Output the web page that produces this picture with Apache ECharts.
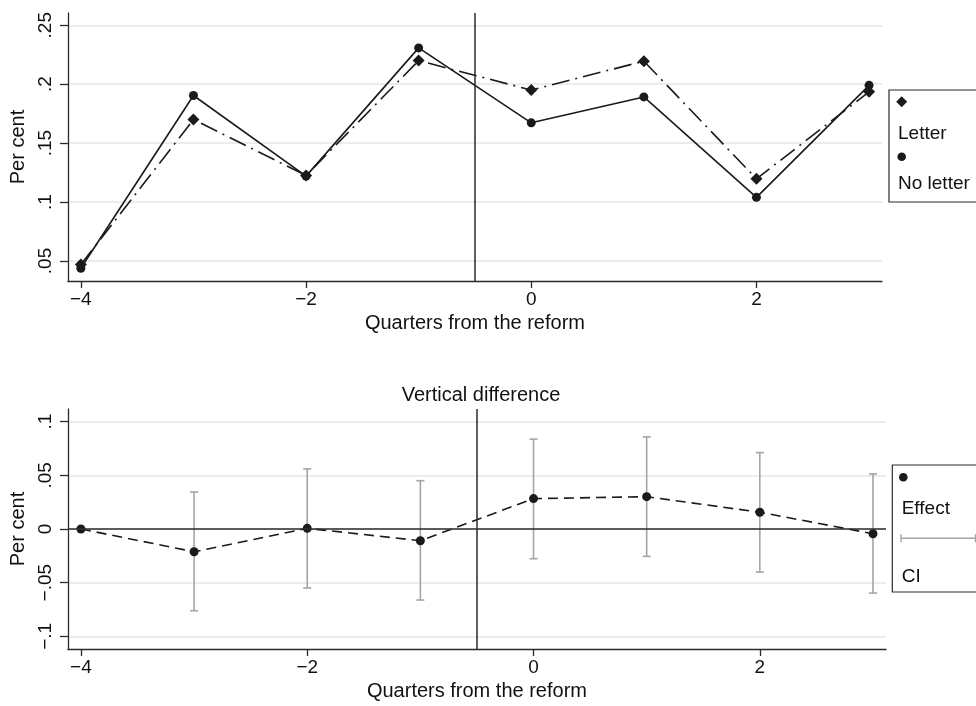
<!DOCTYPE html>
<html><head><meta charset="utf-8">
<script src="https://cdn.jsdelivr.net/npm/echarts@6/dist/echarts.min.js"></script>
<style>html,body{margin:0;padding:0;background:#fff}#c{width:976px;height:706px}</style>
</head><body><div id="c"></div>
<script>
// ---- data ----
const quarters = [-4, -3, -2, -1, 0, 1, 2, 3];
const letter   = [0.047, 0.170, 0.1225, 0.220, 0.195, 0.2195, 0.1197, 0.1935];
const noLetter = [0.0438, 0.1904, 0.122, 0.2308, 0.1672, 0.1892, 0.104, 0.199];
const effect   = [0, -0.0212, 0.0006, -0.0109, 0.0283, 0.0301, 0.0156, -0.0044];
const ciLow    = [null, -0.0762, -0.055, -0.0662, -0.0277, -0.0255, -0.0401, -0.0597];
const ciHigh   = [null, 0.0345, 0.056, 0.045, 0.0837, 0.0858, 0.0712, 0.0513];
const xTicks = [-4, -2, 0, 2];
const yTicksTop = [0.05, 0.1, 0.15, 0.2, 0.25];
const yTicksBottom = [-0.1, -0.05, 0, 0.05, 0.1];
const reformQuarter = -0.5;
const seriesNames = ['Letter', 'No letter', 'Effect', 'CI'];
const xTitle = 'Quarters from the reform';
const yTitle = 'Per cent';
const bottomTitle = 'Vertical difference';

// ---- styling ----
const FONT = '"Liberation Sans", Arial, Helvetica, sans-serif';
const INK = '#1a1a1a';
const AX = '#2b2b2b';
const GRIDC = '#e6e6e6';
const CIC = '#a5a5a5';

function fmtY(v) {
  if (Math.abs(v) < 1e-9) return '0';
  let s = String(Math.round(v * 1000) / 1000).replace('0.', '.');
  return s.replace('-', '\u2212');
}
function fmtX(v) { return String(v).replace('-', '\u2212'); }

function xAxis(gi) {
  return {
    type: 'value', gridIndex: gi, min: -4.115, max: 3.115,
    axisLine: { show: true, onZero: false, lineStyle: { color: AX, width: 1.3 } },
    axisTick: { show: true, length: 7, customValues: xTicks, lineStyle: { color: AX, width: 1.3 } },
    axisLabel: { customValues: xTicks, formatter: fmtX, fontFamily: FONT, fontSize: 19, color: '#111', margin: 9 },
    splitLine: { show: false },
    name: xTitle, nameLocation: 'middle', nameGap: 32,
    nameTextStyle: { fontFamily: FONT, fontSize: 20, color: '#111' }
  };
}
function yAxis(gi, min, max, ticks) {
  return {
    type: 'value', gridIndex: gi, min: min, max: max,
    axisLine: { show: true, onZero: false, lineStyle: { color: AX, width: 1.3 } },
    axisTick: { show: true, length: 8, customValues: ticks, lineStyle: { color: AX, width: 1.3 } },
    axisLabel: { customValues: ticks, formatter: fmtY, rotate: 90, align: 'center', verticalAlign: 'bottom',
                 fontFamily: FONT, fontSize: 19, color: '#111', margin: 13 },
    splitLine: { show: true, lineStyle: { color: GRIDC, width: 1.5 } },
    name: yTitle, nameLocation: 'middle', nameGap: 34, nameRotate: 90,
    nameTextStyle: { fontFamily: FONT, fontSize: 20, color: '#111' }
  };
}

const vline = { xAxis: reformQuarter };
const markLineBase = {
  silent: true, symbol: ['none', 'none'], label: { show: false },
  lineStyle: { color: AX, width: 1.5, type: 'solid' }, animation: false
};

const option = {
  animation: false,
  backgroundColor: '#fff',
  title: {
    text: bottomTitle, left: 476, top: 380, textAlign: 'center',
    textStyle: { fontFamily: FONT, fontSize: 20, fontWeight: 'normal', color: '#111' }
  },
  grid: [
    { left: 67, top: 13, right: 94, bottom: 425 },
    { left: 67, top: 409, right: 90, bottom: 57 }
  ],
  xAxis: [xAxis(0), xAxis(1)],
  yAxis: [yAxis(0, 0.033, 0.2604, yTicksTop), yAxis(1, -0.1118, 0.1118, yTicksBottom)],
  series: [
    {
      name: seriesNames[1], type: 'line', xAxisIndex: 0, yAxisIndex: 0,
      data: quarters.map((q, i) => [q, noLetter[i]]),
      symbol: 'circle', symbolSize: 9, z: 3,
      lineStyle: { color: INK, width: 1.6, type: 'solid' },
      itemStyle: { color: INK },
      markLine: Object.assign({}, markLineBase, { data: [vline] })
    },
    {
      name: seriesNames[0], type: 'line', xAxisIndex: 0, yAxisIndex: 0,
      data: quarters.map((q, i) => [q, letter[i]]),
      symbol: 'diamond', symbolSize: 12, z: 4,
      lineStyle: { color: INK, width: 1.6, type: [18, 6, 2, 6] },
      itemStyle: { color: INK }
    },
    {
      name: seriesNames[3], type: 'custom', xAxisIndex: 1, yAxisIndex: 1, z: 2,
      data: quarters.map((q, i) => [q, ciLow[i], ciHigh[i]]),
      encode: { x: 0, y: [1, 2] },
      renderItem: function (params, api) {
        const lo = api.value(1), hi = api.value(2);
        if (lo == null || hi == null || isNaN(lo) || isNaN(hi)) return null;
        const p1 = api.coord([api.value(0), lo]);
        const p2 = api.coord([api.value(0), hi]);
        const w = 4;
        const st = { stroke: CIC, lineWidth: 1.6 };
        return {
          type: 'group', children: [
            { type: 'line', shape: { x1: p1[0], y1: p1[1], x2: p2[0], y2: p2[1] }, style: st },
            { type: 'line', shape: { x1: p1[0] - w, y1: p1[1], x2: p1[0] + w, y2: p1[1] }, style: st },
            { type: 'line', shape: { x1: p2[0] - w, y1: p2[1], x2: p2[0] + w, y2: p2[1] }, style: st }
          ]
        };
      }
    },
    {
      name: seriesNames[2], type: 'line', xAxisIndex: 1, yAxisIndex: 1, z: 4,
      data: quarters.map((q, i) => [q, effect[i]]),
      symbol: 'circle', symbolSize: 9,
      lineStyle: { color: INK, width: 1.6, type: [10, 6] },
      itemStyle: { color: INK },
      markLine: Object.assign({}, markLineBase, { data: [vline, { yAxis: 0 }] })
    }
  ],
  graphic: [
    // top legend
    { type: 'rect', shape: { x: 889, y: 90, width: 120, height: 112 }, style: { fill: '#fff', stroke: AX, lineWidth: 1.2 }, z: 10 },
    { type: 'polygon', shape: { points: [[901.7, 96.2], [907.2, 101.7], [901.7, 107.2], [896.2, 101.7]] }, style: { fill: INK }, z: 11 },
    { type: 'text', x: 898, y: 134, style: { text: seriesNames[0], font: '19px ' + FONT, fill: '#111', verticalAlign: 'middle' }, z: 11 },
    { type: 'circle', shape: { cx: 901.7, cy: 156.7, r: 4.3 }, style: { fill: INK }, z: 11 },
    { type: 'text', x: 898, y: 184, style: { text: seriesNames[1], font: '19px ' + FONT, fill: '#111', verticalAlign: 'middle' }, z: 11 },
    // bottom legend
    { type: 'rect', shape: { x: 892.3, y: 465, width: 120, height: 127 }, style: { fill: '#fff', stroke: AX, lineWidth: 1.2 }, z: 10 },
    { type: 'circle', shape: { cx: 903.3, cy: 477.3, r: 4.3 }, style: { fill: INK }, z: 11 },
    { type: 'text', x: 901.7, y: 509, style: { text: seriesNames[2], font: '19px ' + FONT, fill: '#111', verticalAlign: 'middle' }, z: 11 },
    { type: 'line', shape: { x1: 901, y1: 538.3, x2: 975.5, y2: 538.3 }, style: { stroke: CIC, lineWidth: 1.4 }, z: 11 },
    { type: 'line', shape: { x1: 901, y1: 534.3, x2: 901, y2: 542.3 }, style: { stroke: CIC, lineWidth: 1.4 }, z: 11 },
    { type: 'line', shape: { x1: 975.5, y1: 534.3, x2: 975.5, y2: 542.3 }, style: { stroke: CIC, lineWidth: 1.4 }, z: 11 },
    { type: 'text', x: 901.7, y: 576.5, style: { text: seriesNames[3], font: '19px ' + FONT, fill: '#111', verticalAlign: 'middle' }, z: 11 }
  ]
};

const chart = echarts.init(document.getElementById('c'), null, { renderer: 'canvas' });
chart.setOption(option);
</script>
</body></html>
